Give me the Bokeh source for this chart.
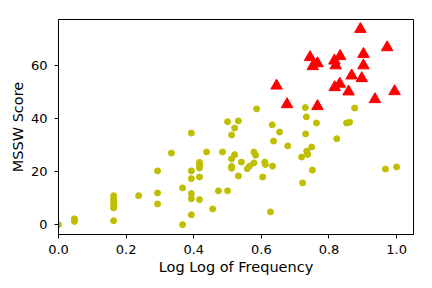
from bokeh.plotting import figure
from bokeh.models import Range1d, FixedTicker, PrintfTickFormatter
from bokeh.embed import file_html
from bokeh.resources import INLINE

# Yellow points (lower MSSW)
low_x = [0.000,
         0.047, 0.047, 0.047,
         0.163, 0.163, 0.163, 0.163, 0.163, 0.163,
         0.237,
         0.293, 0.293, 0.293,
         0.334,
         0.367, 0.367,
         0.393, 0.393, 0.393, 0.393, 0.393, 0.393,
         0.417, 0.417, 0.417, 0.417, 0.417,
         0.438, 0.456, 0.473, 0.485,
         0.500, 0.500,
         0.512, 0.512, 0.512, 0.512,
         0.521, 0.521,
         0.532, 0.532,
         0.541, 0.558, 0.565,
         0.578, 0.583, 0.578,
         0.586, 0.604,
         0.610, 0.612,
         0.627,
         0.632, 0.636, 0.633,
         0.654, 0.678,
         0.719, 0.722,
         0.730, 0.733, 0.731, 0.734, 0.737,
         0.749, 0.751, 0.763, 0.823,
         0.852, 0.861, 0.876,
         0.967, 1.000]
low_y = [0.0,
         2.2, 1.7, 1.2,
         10.9, 9.6, 8.4, 7.1, 6.3, 1.5,
         10.9,
         20.2, 11.9, 7.8,
         26.9,
         13.8, 0.0,
         34.4, 20.2, 17.3, 11.7, 9.7, 3.7,
         23.4, 22.4, 21.3, 17.9, 9.4,
         27.3, 5.9, 12.7, 27.3,
         38.7, 12.7,
         33.7, 24.7, 21.9, 21.2,
         36.3, 26.3,
         39.0, 18.3,
         23.5, 21.0, 22.0,
         27.3, 26.1, 23.2,
         43.5, 17.9,
         23.5, 22.6,
         4.8,
         37.5, 31.4, 22.0,
         34.8, 29.6,
         25.4, 15.7,
         44.0, 40.5, 34.1, 27.6, 26.4,
         29.2, 20.5, 38.2, 32.3,
         38.2, 38.5, 43.8,
         20.9, 21.7]

# Red triangles (high MSSW)
high_x = [0.893, 0.972, 0.744, 0.766, 0.752, 0.816, 0.833, 0.820, 0.902, 0.902,
          0.645, 0.867, 0.897, 0.817, 0.832, 0.858, 0.936, 0.994, 0.676, 0.766]
high_y = [73.5, 66.6, 62.9, 60.6, 59.5, 61.6, 63.3, 59.8, 64.1, 59.8,
          52.2, 56.0, 55.0, 51.6, 52.9, 50.0, 47.1, 50.1, 45.2, 44.5]

x_ticks = [0.0, 0.2, 0.4, 0.6, 0.8, 1.0]
y_ticks = [0, 20, 40, 60]

p = figure(width=432, height=288, output_backend="svg", toolbar_location=None,
           x_range=Range1d(0.0, 1.05), y_range=Range1d(-3.7, 77.1),
           min_border_left=58, min_border_right=19, min_border_top=19, min_border_bottom=54)

p.scatter(low_x, low_y, marker="circle", size=6, fill_color="#bfbf00", line_color="#bfbf00")
p.scatter(high_x, high_y, marker="triangle", size=11.5, fill_color="#ff0000", line_color="#ff0000")

p.xgrid.visible = False
p.ygrid.visible = False
p.outline_line_color = "black"
p.outline_line_width = 1
p.background_fill_color = "white"
p.border_fill_color = "white"

p.xaxis.ticker = FixedTicker(ticks=x_ticks)
p.yaxis.ticker = FixedTicker(ticks=y_ticks)
p.xaxis.formatter = PrintfTickFormatter(format="%.1f")
p.yaxis.formatter = PrintfTickFormatter(format="%d")
p.xaxis.axis_label = "Log Log of Frequency"
p.yaxis.axis_label = "MSSW Score"
for ax in (p.xaxis, p.yaxis):
    ax.minor_tick_line_color = None
    ax.major_tick_in = 0
    ax.major_tick_out = 4
    ax.major_tick_line_color = "black"
    ax.axis_line_color = "black"
    ax.major_label_text_font = "DejaVu Sans"
    ax.major_label_text_font_size = "13px"
    ax.major_label_text_color = "black"
    ax.axis_label_text_font = "DejaVu Sans"
    ax.axis_label_text_font_size = "14.5px"
    ax.axis_label_text_font_style = "normal"
    ax.axis_label_text_color = "black"
p.xaxis.major_label_standoff = 6
p.yaxis.major_label_standoff = 7
p.xaxis.axis_label_standoff = 2
p.yaxis.axis_label_standoff = 2

open("out.html", "w").write(file_html(p, INLINE))
